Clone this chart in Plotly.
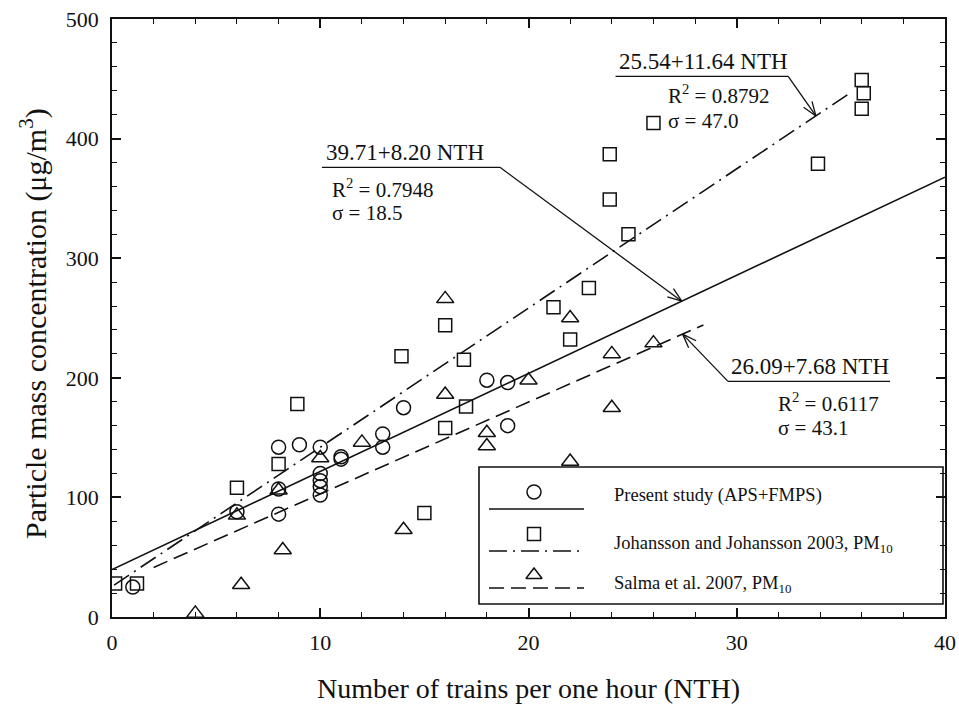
import math
import plotly.graph_objects as go

# ---- data -------------------------------------------------------------
present_x = [1, 6, 8, 8, 8, 9, 10, 10, 10, 10, 10, 11, 11, 13, 13, 14, 18, 19, 19]
present_y = [25, 88, 142, 107, 86, 144, 142, 120, 114, 109, 102, 134, 132, 153, 142, 175, 198, 196, 160]

johansson_x = [0.15, 1.2, 6, 8, 8.9, 13.9, 15, 16, 16, 16.9, 17, 21.2, 22, 22.9, 23.9, 23.9, 24.8, 26, 33.9, 36, 36.1, 36]
johansson_y = [28, 28, 108, 128, 178, 218, 87, 244, 158, 215, 176, 259, 232, 275, 387, 349, 320, 413, 379, 449, 438, 425]

salma_x = [4, 6, 6.2, 8.2, 8, 10, 12, 14, 16, 16, 18, 18, 20, 22, 22, 24, 24, 26]
salma_y = [3, 85, 27, 56, 106, 133, 146, 73, 266, 186, 154, 143, 198, 250, 130, 220, 175, 229]

# regression lines: intercept, slope, x-extent, R^2, sigma
fit_present = dict(a=39.71, b=8.20, x0=0, x1=40, r2="0.7948", sigma="18.5")
fit_johansson = dict(a=25.54, b=11.64, x0=0.1, x1=35.5, r2="0.8792", sigma="47.0")
fit_salma = dict(a=26.09, b=7.68, x0=2.0, x1=28.4, r2="0.6117", sigma="43.1")

legend_names = [
    "Present study (APS+FMPS)",
    "Johansson and Johansson 2003, PM<sub>10</sub>",
    "Salma et al. 2007, PM<sub>10</sub>",
]

x_title = "Number of trains per one hour (NTH)"
y_title = "Particle mass concentration (μg/m<sup>3</sup>)"

# ---- layout geometry ----------------------------------------------------
W, H = 959, 711
ML, MR, MT, MB = 112, 14, 19, 94
XR = (0, 40)
YR = (0, 500)
PX = (W - ML - MR) / (XR[1] - XR[0])   # pixels per x unit
PY = (H - MT - MB) / (YR[1] - YR[0])   # pixels per y unit

FONT = "Liberation Serif"
BLACK = "#111111"

fig = go.Figure()


def fit_line(fit, dash, name):
    xs = [fit["x0"], fit["x1"]]
    ys = [fit["a"] + fit["b"] * x for x in xs]
    fig.add_trace(go.Scatter(x=xs, y=ys, mode="lines", name=name,
                             line=dict(color=BLACK, width=1.6, dash=dash),
                             showlegend=False, hoverinfo="skip"))


DASHDOT = "18px,6px,2px,6px"
DASHED = "15px,7px"

fit_line(fit_present, "solid", "present fit")
fit_line(fit_johansson, DASHDOT, "johansson fit")
fit_line(fit_salma, DASHED, "salma fit")

mk = dict(color=BLACK, width=1.5)
fig.add_trace(go.Scatter(x=present_x, y=present_y, mode="markers", showlegend=False,
                         marker=dict(symbol="circle-open", size=14, line=mk, color=BLACK)))
fig.add_trace(go.Scatter(x=johansson_x, y=johansson_y, mode="markers", showlegend=False,
                         marker=dict(symbol="square-open", size=13, line=mk, color=BLACK)))
fig.add_trace(go.Scatter(x=salma_x, y=salma_y, mode="markers", showlegend=False,
                         marker=dict(symbol="triangle-up-open", size=15, line=mk, color=BLACK)))

shapes = []
annotations = []


def seg(x0, y0, x1, y1, width=1.3):
    shapes.append(dict(type="line", xref="x", yref="y", x0=x0, y0=y0, x1=x1, y1=y1,
                       line=dict(color=BLACK, width=width)))


def leader(fit, x_tip, ul_x0, ul_x1, ul_y, elbow_x, text_x, text_y, r2_x, r2_y, sg_y):
    """Equation label with underline and an open-headed arrow to the fit line."""
    y_tip = fit["a"] + fit["b"] * x_tip
    seg(ul_x0, ul_y, ul_x1, ul_y)
    seg(elbow_x, ul_y, x_tip, y_tip)
    # open arrowhead, built in pixel space
    dxp = (x_tip - elbow_x) * PX
    dyp = (y_tip - ul_y) * PY
    ang = math.atan2(dyp, dxp)
    L, half = 15, math.radians(20)
    for s in (-1, 1):
        a = ang + math.pi + s * half
        seg(x_tip, y_tip, x_tip + L * math.cos(a) / PX, y_tip + L * math.sin(a) / PY)
    eq = f"{fit['a']:.2f}+{fit['b']:.2f} NTH"
    annotations.append(dict(x=text_x, y=text_y, xref="x", yref="y", text=eq,
                            showarrow=False, xanchor="left", yanchor="bottom",
                            font=dict(family=FONT, size=23, color=BLACK)))
    annotations.append(dict(x=r2_x, y=r2_y, xref="x", yref="y",
                            text=f"R<sup>2</sup> = {fit['r2']}", showarrow=False,
                            xanchor="left", yanchor="middle",
                            font=dict(family=FONT, size=21, color=BLACK)))
    annotations.append(dict(x=r2_x, y=sg_y, xref="x", yref="y",
                            text=f"σ = {fit['sigma']}", showarrow=False,
                            xanchor="left", yanchor="middle",
                            font=dict(family=FONT, size=21, color=BLACK)))


leader(fit_present, x_tip=27.36, ul_x0=10.08, ul_x1=18.63, ul_y=376, elbow_x=18.63,
       text_x=10.2, text_y=376.5, r2_x=10.45, r2_y=358, sg_y=338)
leader(fit_johansson, x_tip=33.8, ul_x0=24.18, ul_x1=32.47, ul_y=452, elbow_x=32.47,
       text_x=24.25, text_y=452.5, r2_x=26.6, r2_y=437, sg_y=415)
leader(fit_salma, x_tip=27.4, ul_x0=29.58, ul_x1=37.36, ul_y=197, elbow_x=29.58,
       text_x=29.65, text_y=197.5, r2_x=31.9, r2_y=179, sg_y=158)


def px_to_paper(px, py):
    return (px - ML) / (W - ML - MR), (H - MB - py) / (H - MT - MB)


# ---- legend box --------------------------------------------------------
bx0, by0 = px_to_paper(479, 604)
bx1, by1 = px_to_paper(943, 467)
shapes.append(dict(type="rect", xref="paper", yref="paper", x0=bx0, y0=by0, x1=bx1, y1=by1,
                   line=dict(color=BLACK, width=1.6), fillcolor="white", layer="below"))

leg_rows = [
    # marker y, line y, text y (pixels), symbol, dash
    (492, 509, 495, "circle-open", "solid"),
    (534, 551, 544, "square-open", DASHDOT),
    (575, 588, 584, "triangle-up-open", DASHED),
]
mx, _ = px_to_paper(534, 0)
lx0, _ = px_to_paper(489, 0)
lx1, _ = px_to_paper(584, 0)
tx, _ = px_to_paper(612, 0)
for (my, ly, ty, sym, dash), name in zip(leg_rows, legend_names):
    _, myp = px_to_paper(0, my)
    _, lyp = px_to_paper(0, ly)
    _, typ = px_to_paper(0, ty)
    fig.add_trace(go.Scatter(x=[mx], y=[myp], xaxis="x2", yaxis="y2", mode="markers",
                             showlegend=False, hoverinfo="skip",
                             marker=dict(symbol=sym, size=14 if sym != "square-open" else 13,
                                         line=mk, color=BLACK)))
    fig.add_trace(go.Scatter(x=[lx0, lx1], y=[lyp, lyp], xaxis="x2", yaxis="y2", mode="lines",
                             showlegend=False, hoverinfo="skip",
                             line=dict(color=BLACK, width=1.4, dash=dash)))
    annotations.append(dict(x=tx, y=typ, xref="paper", yref="paper", text=name,
                            showarrow=False, xanchor="left", yanchor="middle",
                            font=dict(family=FONT, size=18.5, color=BLACK)))

# ---- y axis title as rotated text -----------------------------------------
ytx, yty = px_to_paper(33, 324)
annotations.append(dict(x=ytx, y=yty, xref="paper", yref="paper", text=y_title,
                        textangle=-90, showarrow=False, xanchor="center", yanchor="middle",
                        font=dict(family=FONT, size=30, color=BLACK)))

axis_common = dict(
    showline=True, linecolor=BLACK, linewidth=1.8, mirror="ticks",
    ticks="inside", tickcolor=BLACK, tickwidth=1.5, ticklen=9,
    showgrid=False, zeroline=False,
    tickfont=dict(family=FONT, size=22, color=BLACK),
)

fig.update_layout(
    width=W, height=H,
    margin=dict(l=ML, r=MR, t=MT, b=MB, pad=0),
    paper_bgcolor="white", plot_bgcolor="white",
    font=dict(family=FONT, color=BLACK),
    showlegend=False,
    xaxis=dict(range=list(XR), dtick=10, tick0=0,
               minor=dict(dtick=2, ticks="inside", ticklen=5, tickcolor=BLACK, tickwidth=1.3),
               title=dict(text=x_title,
                          font=dict(family=FONT, size=28, color=BLACK), standoff=24),
               ticklabelstandoff=5,
               automargin=False, **axis_common),
    yaxis=dict(range=list(YR), dtick=100, tick0=0,
               minor=dict(dtick=20, ticks="inside", ticklen=5, tickcolor=BLACK, tickwidth=1.3),
               ticklabelstandoff=7,
               automargin=False, **axis_common),
    xaxis2=dict(range=[0, 1], overlaying="x", visible=False, fixedrange=True),
    yaxis2=dict(range=[0, 1], overlaying="y", visible=False, fixedrange=True),
    shapes=shapes,
    annotations=annotations,
)

fig.write_html("out.html")
